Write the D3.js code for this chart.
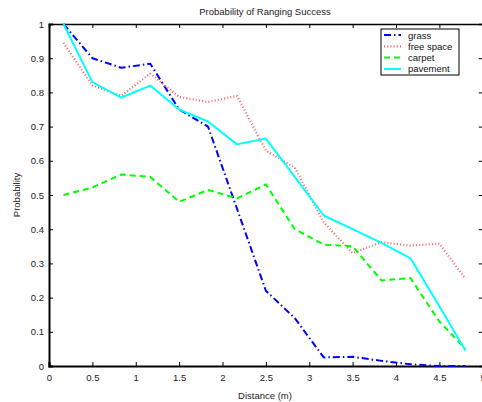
<!DOCTYPE html>
<html><head><meta charset="utf-8">
<script src="https://cdn.jsdelivr.net/npm/d3@7"></script>
<style>body{margin:0;background:#fff}svg{display:block}text{font-family:"Liberation Sans",Arial,sans-serif}</style>
</head><body><svg id="c" width="482" height="402"></svg>
<script>
const distances = [0.167, 0.5, 0.833, 1.167, 1.5, 1.833, 2.167, 2.5, 2.833, 3.167, 3.5, 3.833, 4.167, 4.5, 4.8];
const grass     = [1.0, 0.90, 0.872, 0.884, 0.75, 0.70, 0.46, 0.22, 0.14, 0.025, 0.027, 0.015, 0.005, 0.0, 0.0];
const freeSpace = [0.945, 0.82, 0.79, 0.855, 0.787, 0.772, 0.79, 0.63, 0.58, 0.42, 0.33, 0.362, 0.352, 0.358, 0.255];
const carpet    = [0.50, 0.522, 0.56, 0.553, 0.48, 0.515, 0.49, 0.531, 0.40, 0.355, 0.35, 0.25, 0.257, 0.13, 0.05];
const pavement  = [1.0, 0.83, 0.785, 0.82, 0.75, 0.715, 0.648, 0.665, 0.553, 0.44, 0.40, 0.36, 0.315, 0.175, 0.045];
const seriesNames = ["grass", "free space", "carpet", "pavement"];
const xTicks = [0, 0.5, 1, 1.5, 2, 2.5, 3, 3.5, 4, 4.5, 5];
const yTicks = [0, 0.1, 0.2, 0.3, 0.4, 0.5, 0.6, 0.7, 0.8, 0.9, 1];

const svg = d3.select("#c");
const L = 49, T = 24, R = 482.75, B = 366;
const x = d3.scaleLinear().domain([0, 5]).range([L, R]);
const y = d3.scaleLinear().domain([0, 1]).range([B, T]);

const styles = [
  {color: "#0000ff", dash: "7,3,1.5,3", w: 2},
  {color: "#ff6060", dash: "1,2.2", w: 2.2},
  {color: "#00ff00", dash: "6,4", w: 2},
  {color: "#00ffff", dash: null, w: 2}
];
const allSeries = [grass, freeSpace, carpet, pavement];

// axes
const fmt = d => d === 0 ? "0" : (d === 1 ? "1" : String(d));
const axB = d3.axisBottom(x).tickValues(xTicks).tickSize(-4).tickPadding(8).tickFormat(fmt);
const axT = d3.axisTop(x).tickValues(xTicks).tickSize(-4).tickFormat("");
const axL = d3.axisLeft(y).tickValues(yTicks).tickSize(-4).tickPadding(5).tickFormat(fmt);
const axR = d3.axisRight(y).tickValues(yTicks).tickSize(-4).tickFormat("");
function styleAx(g, w){
  g.select(".domain").attr("stroke","#000").attr("stroke-width",w);
  g.selectAll(".tick line").attr("stroke","#000").attr("stroke-width",1);
  g.selectAll(".tick text").attr("fill","#222").style("font-size","9.5px");
}
svg.append("g").attr("transform",`translate(0,${B})`).call(axB).call(styleAx, 2.2);
svg.append("g").attr("transform",`translate(0,${T})`).call(axT).call(styleAx, 1.5);
svg.append("g").attr("transform",`translate(${L},0)`).call(axL).call(styleAx, 2);
svg.append("g").attr("transform",`translate(${R},0)`).call(axR).call(styleAx, 1.5);
svg.selectAll(".domain").attr("d", function(){ return d3.select(this).attr("d").replace(/[Vv][^MHhLl]*$/,""); });

// lines
const line = d3.line().x((d,i)=>x(distances[i])).y(d=>y(d));
const plot = svg.append("g");
allSeries.forEach((s,k)=>{
  plot.append("path").datum(s).attr("d", line).attr("fill","none")
    .attr("stroke", styles[k].color).attr("stroke-width", styles[k].w)
    .attr("stroke-dasharray", styles[k].dash)
    .attr("stroke-linejoin","round");
});

// legend
const lg = svg.append("g");
lg.append("rect").attr("x",381).attr("y",29).attr("width",78).attr("height",46)
  .attr("fill","#fff").attr("stroke","#000").attr("stroke-width",1);
seriesNames.forEach((n,k)=>{
  const yy = 35 + k*11.3;
  lg.append("line").attr("x1",384).attr("x2",401).attr("y1",yy).attr("y2",yy)
    .attr("stroke",styles[k].color).attr("stroke-width",styles[k].w)
    .attr("stroke-dasharray",styles[k].dash);
  lg.append("text").attr("x",408).attr("y",yy+3.5).text(n).style("font-size","9.5px").attr("fill","#111");
});

// titles
svg.append("text").attr("x",265).attr("y",15).attr("text-anchor","middle").style("font-size","9.5px").attr("fill","#222").text("Probability of Ranging Success");
svg.append("text").attr("x",265).attr("y",399).attr("text-anchor","middle").style("font-size","9.5px").attr("fill","#222").text("Distance (m)");
svg.append("text").attr("transform","translate(20,195) rotate(-90)").attr("text-anchor","middle").style("font-size","9.5px").attr("fill","#222").text("Probability");
</script></body></html>
